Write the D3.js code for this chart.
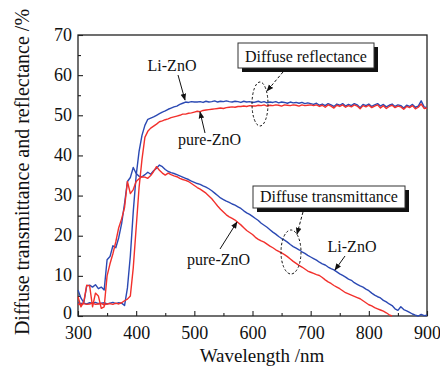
<!DOCTYPE html>
<html>
<head>
<meta charset="utf-8">
<script src="https://cdn.jsdelivr.net/npm/d3@7"></script>
<style>
  body { margin: 0; background: #fff; }
  svg text { font-family: "Liberation Serif", "Times New Roman", "DejaVu Serif", serif; fill: #111; }
</style>
</head>
<body>
<script>
// wavelength grid (nm), 5 nm steps
const wavelengths = [
  300, 305, 310, 315, 320, 325, 330, 335, 340, 345, 350, 355, 360, 365, 370, 375, 380, 385, 390, 395,
  400, 405, 410, 415, 420, 425, 430, 435, 440, 445, 450, 455, 460, 465, 470, 475, 480, 485, 490, 495,
  500, 505, 510, 515, 520, 525, 530, 535, 540, 545, 550, 555, 560, 565, 570, 575, 580, 585, 590, 595,
  600, 605, 610, 615, 620, 625, 630, 635, 640, 645, 650, 655, 660, 665, 670, 675, 680, 685, 690, 695,
  700, 705, 710, 715, 720, 725, 730, 735, 740, 745, 750, 755, 760, 765, 770, 775, 780, 785, 790, 795,
  800, 805, 810, 815, 820, 825, 830, 835, 840, 845, 850, 855, 860, 865, 870, 875, 880, 885, 890, 895,
  900
];

// diffuse reflectance, %
const reflLi = [
  3.3, 3.1, 3.2, 3.0, 3.3, 3.2, 3.4, 3.1, 3.2, 3.3, 3.0, 3.2, 3.4, 3.1, 3.3, 3.2, 2.6,
  7, 15, 26, 35, 41, 45, 47.5, 49, 49.3, 49.6, 50, 50.4, 50.8, 51.1, 51.5, 51.8, 52.1, 52.3, 52.7, 53, 53.3, 53.2, 53.4, 53.3,
  53.3, 53.4, 53.2, 53.5, 53.3, 53.4, 53.6, 53.3, 53.5, 53.4,
  53.6, 53.4, 53.3, 53.5, 53.4, 53.2, 53.5, 53.3, 53.4, 53.2,
  53.3, 53.5, 53.2, 53.4, 53.1, 53.3, 53.2, 53.4, 53.1, 53.3,
  53.2, 53.0, 53.3, 53.1, 53.2, 53.0, 53.2, 52.9, 53.1, 52.9,
  52.7, 53.0, 52.5, 52.8, 52.4, 52.9, 52.6, 52.2, 52.8, 52.5,
  52.9, 52.3, 52.7, 52.4, 52.9, 52.6, 51.9, 52.7, 52.4, 52.8,
  52.2, 52.6, 52.9, 52.3, 52.7, 52.1, 52.5, 52.8, 52.2, 52.6,
  52.4, 51.8, 52.5, 52.2, 52.7, 52.0, 52.3, 53.6, 52.1, 51.9
];
const reflPure = [
  3.0, 2.8, 3.1, 2.9, 3.0, 3.2, 2.9, 3.0, 3.1, 2.8, 3.0, 3.1, 2.9, 3.2, 3.0, 3.3, 3.8,
  4.2, 5, 12, 22, 32, 39, 44.5, 46, 46.8, 47.3, 47.8, 48.4, 48.6, 48.9, 49.1, 49.4, 49.6, 49.8, 50.0, 50.3,
  50.3, 50.5, 50.6, 50.8, 51.0, 50.9, 51.2, 51.3, 51.4, 51.5, 51.6, 51.7,
  51.8, 51.7, 51.9, 52.0, 52.1, 52.0, 52.2, 52.2, 52.3, 52.2, 52.4, 52.3,
  52.3, 52.5, 52.4, 52.6, 52.3, 52.5, 52.4, 52.6, 52.5, 52.3,
  52.6, 52.5, 52.4, 52.6, 52.5, 52.3, 52.6, 52.4, 52.5, 52.6,
  52.4, 52.6, 52.2, 52.5, 52.0, 52.6, 52.3, 51.8, 52.5, 52.2,
  52.6, 52.0, 52.4, 52.1, 52.6, 52.3, 51.6, 52.4, 52.1, 52.5,
  51.9, 52.3, 52.6, 51.8, 52.4, 51.7, 52.2, 52.5, 51.9, 52.3,
  52.1, 51.5, 52.2, 51.9, 52.4, 51.6, 52.0, 52.8, 51.7, 51.8
];

// diffuse transmittance, %
const transLi = [
  6.5, 4.5, 3.3, 7.5, 7.7, 7.2, 7.8, 6.8, 7.2, 6.5,
  14, 14.8, 17.5, 17, 19.5, 23, 28, 33.5, 34.5, 37, 35.5, 34.8, 34.7, 35.2, 35.8,
  35.3, 36.2, 36.8, 37.6, 37.2, 36.5, 36.0, 35.7, 35.5, 35.2, 34.9, 34.6, 34.3, 34.0, 33.6,
  33.3, 33.0, 32.8, 32.4, 32.1, 31.7, 31.2, 30.6, 30.0, 29.4,
  29.0, 28.6, 28.3, 27.9, 27.6, 27.2, 26.8, 26.2, 25.7, 25.3,
  24.8, 24.3, 23.8, 23.1, 22.6, 22.1, 21.5, 20.9, 20.4, 19.8,
  19.3, 18.9, 18.4, 17.8, 17.3, 16.9, 16.5, 16.0, 15.6, 15.1,
  14.7, 14.3, 13.9, 13.4, 13.0, 12.7, 12.2, 11.8, 11.5, 11.0,
  10.5, 10.1, 9.7, 9.2, 8.9, 8.3, 7.9, 7.5, 7.2, 6.7,
  6.3, 5.7, 5.2, 4.8, 4.5, 3.9, 3.5, 3.0, 2.6, 1.8,
  1.4, 2.3, 1.6, 1.3, 0.9, 0.5, 0.2, 0.0, 0.4, 0.1, 0.2
];
const transPure = [
  4.8, 2.3, 3.5, 7.7, 7.5, 2.3, 5.7, 5.0, 1.9, 2.3,
  10, 13, 15.5, 18.5, 22, 24.2, 27, 33.5, 30.5, 31.5, 33.5, 34.2, 34.7, 34.6, 34.3,
  35, 36, 37.2, 36.3, 35.6, 35.1, 35.6, 35.2, 34.9, 34.7, 34.3, 34.0, 33.8, 33.5, 33.0,
  32.5, 32.0, 31.6, 31.1, 30.6, 29.9, 29.2, 28.3, 27.4, 26.6,
  25.9, 25.2, 24.7, 24.3, 23.9, 23.3, 22.7, 22.0, 21.3, 20.8,
  20.3, 19.6, 19.1, 18.7, 18.4, 17.9, 17.4, 17.0, 16.5, 16.1,
  15.7, 15.3, 14.8, 14.2, 13.6, 13.1, 12.6, 12.2, 11.7, 11.2,
  10.9, 10.6, 10.3, 10.1, 9.6, 9.0, 8.5, 8.1, 7.6, 7.2,
  6.8, 6.3, 5.8, 5.5, 5.2, 4.9, 4.6, 4.3, 3.8, 3.3,
  2.8, 2.5, 2.1, 1.8, 1.5, 1.2, 0.8, 0.3, 0.0,
  null, null, null, null, null, null, null, null, null, null, null, null
];

const xTicks = [300, 400, 500, 600, 700, 800, 900];
const yTicks = [0, 10, 20, 30, 40, 50, 60, 70];

const blue = "#2b49b3";
const red = "#f2302c";
const serif = "'Liberation Serif', 'Times New Roman', 'DejaVu Serif', serif";

const W = 440, H = 370;
const plotL = 78, plotR = 427, plotT = 35, plotB = 316;

const svg = d3.select("body").append("svg")
  .attr("width", W).attr("height", H)
  .style("font-family", serif);

const x = d3.scaleLinear().domain([300, 900]).range([plotL, plotR]);
const y = d3.scaleLinear().domain([0, 70]).range([plotB, plotT]);

// axes, ticks pointing inward
const xAxis = svg.append("g").attr("transform", `translate(0,${plotB})`)
  .call(d3.axisBottom(x).tickValues(xTicks).tickSizeInner(-5).tickSizeOuter(0).tickPadding(10));
const xMinor = svg.append("g").attr("transform", `translate(0,${plotB})`)
  .call(d3.axisBottom(x).tickValues([350, 450, 550, 650, 750, 850]).tickSizeInner(-3).tickSizeOuter(0).tickFormat(""));
const yAxis = svg.append("g").attr("transform", `translate(${plotL},0)`)
  .call(d3.axisLeft(y).tickValues(yTicks).tickSizeInner(-5).tickSizeOuter(0).tickPadding(6));
const yMinor = svg.append("g").attr("transform", `translate(${plotL},0)`)
  .call(d3.axisLeft(y).tickValues([5, 15, 25, 35, 45, 55, 65]).tickSizeInner(-3).tickSizeOuter(0).tickFormat(""));

[xAxis, xMinor, yAxis, yMinor].forEach(g => {
  g.attr("font-family", null).attr("font-size", null);
  g.select(".domain").remove();
  g.selectAll("line").attr("stroke", "#222").attr("stroke-width", 1.1);
  g.selectAll("text").style("font-size", "18px").style("font-family", serif).attr("fill", "#111");
});
yAxis.selectAll("text").attr("dy", "0.28em");
// the zero label sits a little higher so it clears the 300 below it
yAxis.selectAll("text").filter(d => d === 0).attr("dy", "0.12em");

svg.append("rect")
  .attr("x", plotL).attr("y", plotT)
  .attr("width", plotR - plotL).attr("height", plotB - plotT)
  .attr("fill", "none").attr("stroke", "#222").attr("stroke-width", 1.3);

// curves
const line = d3.line()
  .defined(d => d[1] != null)
  .x(d => x(d[0]))
  .y(d => y(d[1]));

const series = [
  { values: reflLi, color: blue },
  { values: transLi, color: blue },
  { values: reflPure, color: red },
  { values: transPure, color: red }
];

svg.append("g").selectAll("path")
  .data(series)
  .join("path")
  .attr("d", s => line(wavelengths.map((w, i) => [w, s.values[i]])))
  .attr("fill", "none")
  .attr("stroke", s => s.color)
  .attr("stroke-width", 1.4)
  .attr("stroke-linejoin", "round");

// axis titles
svg.append("text")
  .attr("x", 262).attr("y", 362)
  .attr("text-anchor", "middle")
  .style("font-size", "19px")
  .text("Wavelength /nm");

svg.append("text")
  .attr("transform", "translate(29,172) rotate(-90)")
  .attr("text-anchor", "middle")
  .style("font-size", "20px")
  .text("Diffuse transmittance and reflectance /%");

// annotations
const defs = svg.append("defs");
defs.append("marker")
  .attr("id", "head")
  .attr("viewBox", "0 0 10 10")
  .attr("refX", 9).attr("refY", 5)
  .attr("markerWidth", 7).attr("markerHeight", 7)
  .attr("markerUnits", "userSpaceOnUse")
  .attr("orient", "auto")
  .append("path").attr("d", "M0,1 L10,5 L0,9 Z").attr("fill", "#111");

const arrow = (x1, y1, x2, y2, dashed) => {
  svg.append("line")
    .attr("x1", x1).attr("y1", y1).attr("x2", x2).attr("y2", y2)
    .attr("stroke", "#111").attr("stroke-width", 1)
    .attr("stroke-dasharray", dashed ? "3,2" : null)
    .attr("marker-end", "url(#head)");
};

const label = (tx, ty, str, anchor) => {
  svg.append("text")
    .attr("x", tx).attr("y", ty)
    .attr("text-anchor", anchor || "start")
    .style("font-size", "16px")
    .text(str);
};

label(172, 71, "Li-ZnO", "middle");
arrow(178, 75, 185, 100);
label(178, 145, "pure-ZnO");
arrow(205, 133, 200, 112);
label(187, 265, "pure-ZnO");
arrow(220, 249, 237, 222);
label(352, 252, "Li-ZnO", "middle");
arrow(345, 256, 335, 270);

const box = (bx, by, bw, bh, str) => {
  svg.append("rect")
    .attr("x", bx + 4).attr("y", by + 4)
    .attr("width", bw).attr("height", bh)
    .attr("fill", "#111");
  svg.append("rect")
    .attr("x", bx).attr("y", by)
    .attr("width", bw).attr("height", bh)
    .attr("fill", "#fff").attr("stroke", "#333").attr("stroke-width", 1);
  svg.append("text")
    .attr("x", bx + bw / 2).attr("y", by + bh - 6)
    .attr("text-anchor", "middle")
    .style("font-size", "16px")
    .text(str);
};

box(238, 43, 136, 25, "Diffuse reflectance");
box(253, 186, 152, 22, "Diffuse transmittance");

arrow(283, 72, 267, 91, true);
arrow(303, 212, 297, 234, true);

[[260, 104, 8, 22], [291, 252, 10, 22]].forEach(e => {
  svg.append("ellipse")
    .attr("cx", e[0]).attr("cy", e[1]).attr("rx", e[2]).attr("ry", e[3])
    .attr("fill", "none").attr("stroke", "#111")
    .attr("stroke-width", 1).attr("stroke-dasharray", "2.5,2");
});
</script>
</body>
</html>
